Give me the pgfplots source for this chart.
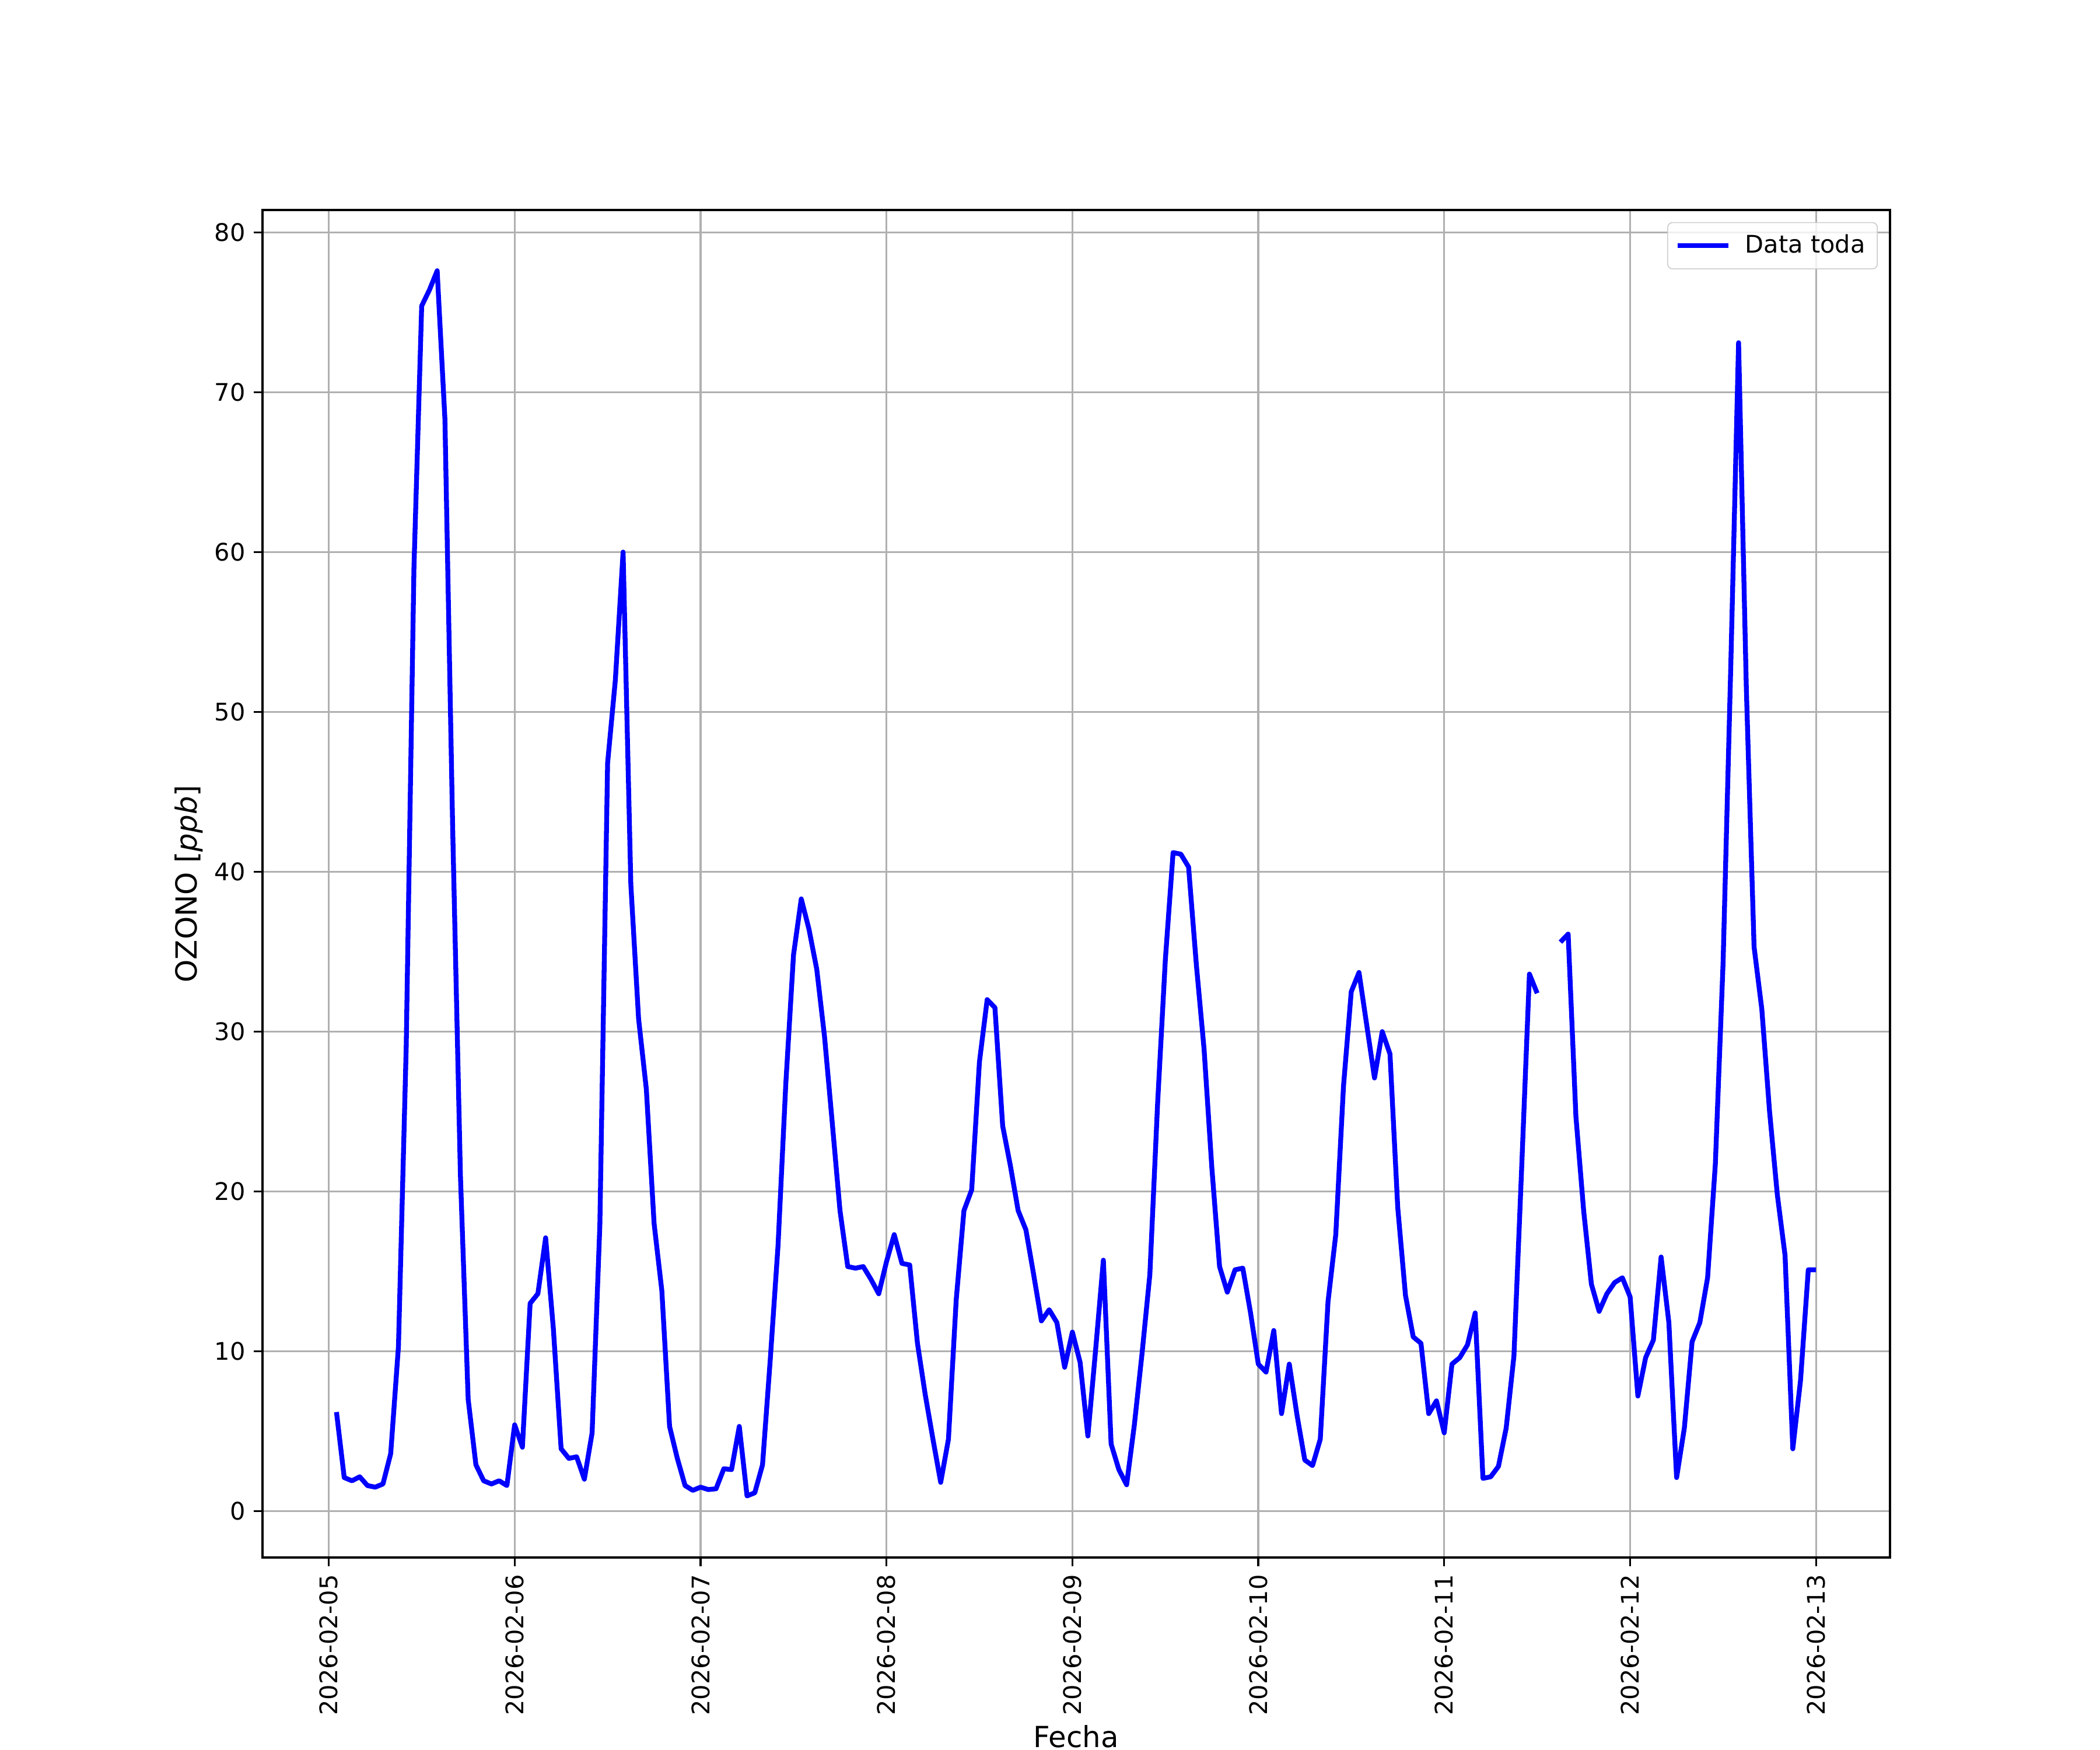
\documentclass[border=0pt]{standalone}
\usepackage{fontspec}
\setmainfont{DejaVu Sans}
\usepackage{pgfplots}
\pgfplotsset{compat=1.18}
\definecolor{gridgray}{RGB}{176,176,176}
\begin{document}
\fontsize{10}{12}\selectfont
\begin{tikzpicture}
\path[use as bounding box] (0,0) rectangle (12in,10in);
\begin{axis}[
  at={(1.5in,1.1in)}, anchor=south west,
  width=9.3in, height=7.7in, scale only axis,
  xmin=-8.55, xmax=201.55, ymin=-2.9, ymax=81.4,
  xtick={0,24,48,72,96,120,144,168,192},
  xticklabels={2026-02-05,2026-02-06,2026-02-07,2026-02-08,2026-02-09,2026-02-10,2026-02-11,2026-02-12,2026-02-13},
  xticklabel style={rotate=90, anchor=east, font=\fontsize{10}{12}\selectfont},
  yticklabel style={font=\fontsize{10}{12}\selectfont},
  ytick={0,10,...,80},
  grid=major, major grid style={gridgray, line width=0.8pt},
  axis line style={black, line width=0.8pt},
  tick align=outside, major tick length=3.5pt, tick style={black, line width=0.8pt},
  xtick pos=bottom, ytick pos=left,
  /pgf/number format/assume math mode=true,
  xlabel={Fecha}, ylabel={OZONO [\textit{ppb}]},
  xlabel style={at={(axis description cs:0.5,-0.1407)}, anchor=base, font=\fontsize{12}{14}\selectfont},
  ylabel style={at={(axis description cs:-0.0452,0.5)}, anchor=center, font=\fontsize{12}{14}\selectfont},
  legend style={at={(0.9925,0.991)}, anchor=north east, draw=black!20, rounded corners=2pt,
    fill=white, fill opacity=0.8, text opacity=1, font=\fontsize{10}{12}\selectfont,
    inner xsep=3pt, inner ysep=3pt, column sep=4pt},
  legend cell align=left,
  legend image code/.code={\draw[#1] (0pt,0pt) -- (21pt,0pt);},
  unbounded coords=jump,
]
\addplot[blue, line width=2pt, line join=round] table {
x y
1 6.2
2 2.1
3 1.9
4 2.15
5 1.6
6 1.5
7 1.7
8 3.6
9 10.3
10 29
11 59
12 75.4
13 76.4
14 77.6
15 68.3
16 42.7
17 21.0
18 7.0
19 2.9
20 1.9
21 1.7
22 1.9
23 1.6
24 5.4
25 4.0
26 13.0
27 13.6
28 17.1
29 11.4
30 3.9
31 3.3
32 3.4
33 2.0
34 4.9
35 17.9
36 46.8
37 52.0
38 60.0
39 39.2
40 30.8
41 26.4
42 18.0
43 13.8
44 5.3
45 3.3
46 1.6
47 1.3
48 1.5
49 1.35
50 1.4
51 2.65
52 2.6
53 5.3
54 0.95
55 1.15
56 2.9
57 9.5
58 16.6
59 26.7
60 34.8
61 38.3
62 36.4
63 33.9
64 29.7
65 24.3
66 18.8
67 15.3
68 15.2
69 15.3
70 14.5
71 13.6
72 15.6
73 17.3
74 15.5
75 15.4
76 10.5
77 7.3
78 4.5
79 1.8
80 4.5
81 13.2
82 18.8
83 20.1
84 28.1
85 32.0
86 31.5
87 24.1
88 21.6
89 18.8
90 17.6
91 14.8
92 11.9
93 12.6
94 11.8
95 9.0
96 11.2
97 9.3
98 4.7
99 10.1
100 15.7
101 4.2
102 2.6
103 1.65
104 5.4
105 9.9
106 14.8
107 25.5
108 34.5
109 41.2
110 41.1
111 40.3
112 34.2
113 28.9
114 21.5
115 15.3
116 13.7
117 15.1
118 15.2
119 12.4
120 9.2
121 8.7
122 11.3
123 6.1
124 9.2
125 6.0
126 3.2
127 2.85
128 4.5
129 13.1
130 17.3
131 26.6
132 32.5
133 33.7
134 30.4
135 27.1
136 30.0
137 28.6
138 19.0
139 13.5
140 10.9
141 10.5
142 6.1
143 6.9
144 4.9
145 9.2
146 9.6
147 10.4
148 12.4
149 2.05
150 2.15
151 2.8
152 5.2
153 9.7
154 21.5
155 33.6
156 32.4
157 nan
158 nan
159 35.6
160 36.1
161 24.7
162 18.8
163 14.2
164 12.5
165 13.6
166 14.3
167 14.6
168 13.4
169 7.2
170 9.6
171 10.7
172 15.9
173 11.8
174 2.1
175 5.2
176 10.6
177 11.8
178 14.6
179 21.7
180 34.3
181 53
182 73.1
183 51.5
184 35.3
185 31.4
186 25.0
187 19.8
188 16.0
189 3.9
190 8.2
191 15.1
192 15.1
};
\addlegendentry{Data toda}
\end{axis}
\end{tikzpicture}
\end{document}
